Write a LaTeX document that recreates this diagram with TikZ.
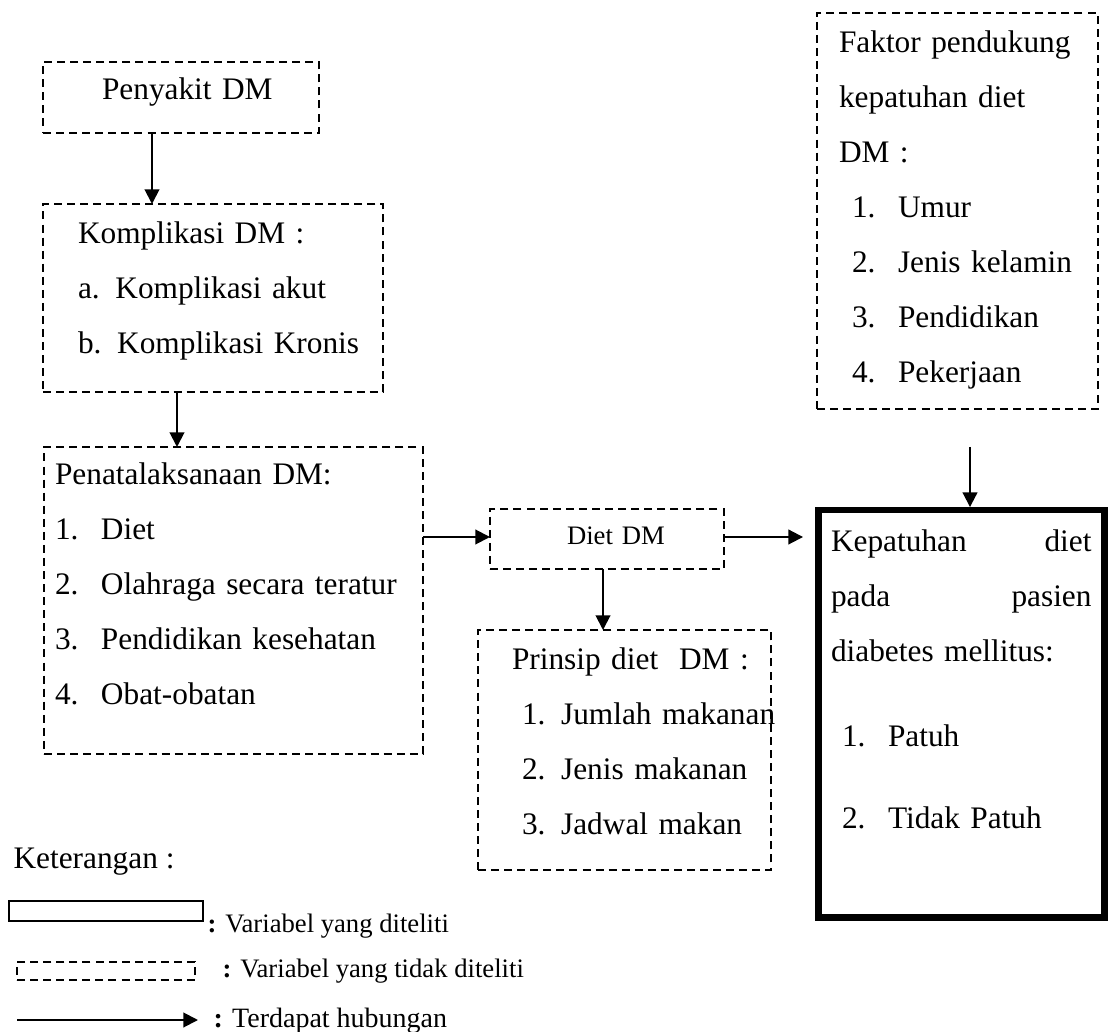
\documentclass[tikz,border=0pt]{standalone}
\usepackage{fontspec}
\setmainfont{Liberation Serif}
\usepackage{tikz}
\usetikzlibrary{arrows.meta}
\tikzstyle{dbox}=[draw,rectangle,line width=0.75pt,dash pattern=on 3pt off 1.9pt,inner ysep=0pt,outer sep=0pt,align=left,anchor=base west]
\tikzstyle{tbox}=[draw,rectangle,line width=2.6pt,inner ysep=0pt,outer sep=0pt,align=left,anchor=base west]
\tikzstyle{link}=[-{Triangle[length=5.5pt,width=5.5pt]},line width=0.75pt]
\tikzstyle{note}=[anchor=base west,inner sep=0pt,font=\fontsize{10}{12}\selectfont]
\newcommand{\itm}[2]{\mbox{\makebox[17.25pt][l]{#1}#2}}

\begin{document}
\begin{tikzpicture}
	[x=0.375pt,y=-0.375pt,font=\fontsize{11.75}{20.625}\selectfont]
	\useasboundingbox (0,0) rectangle (1109,1032);
	\node (penyakit) [dbox,inner xsep=22.125pt,text width=59.25pt,text height=14.25pt,text depth=12.375pt] at (43,100) {\mbox{Penyakit DM}};
	\node (komplikasi) [dbox,inner xsep=13.125pt,text width=101.25pt,text height=15pt,text depth=55.5pt] at (43,244)
		{Komplikasi DM :\\ a. Komplikasi akut\\ \mbox{b. Komplikasi Kronis}};
	\node (penata) [dbox,inner xsep=4.125pt,text width=133.875pt,text height=14.25pt,text depth=100.875pt] at (44,485)
		{Penatalaksanaan DM:\\ \itm{1.}{Diet}\\ \itm{2.}{Olahraga secara teratur}\\ \itm{3.}{Pendidikan kesehatan}\\ \itm{4.}{Obat-obatan}};
	\node (diet) [dbox,inner xsep=28.875pt,text width=30pt,text height=13.5pt,text depth=9pt,font=\fontsize{10}{12}\selectfont] at (490,545) {\mbox{Diet DM}};
	\node (prinsip) [dbox,inner xsep=12.75pt,text width=84.375pt,text height=14.625pt,text depth=75.375pt] at (478,669)
		{\mbox{Prinsip diet\ \ DM :}\\ \hspace*{3.75pt}\mbox{1. Jumlah makanan}\\ \hspace*{3.75pt}\mbox{2. Jenis makanan}\\ \hspace*{3.75pt}\mbox{3. Jadwal makan}};
	\node (faktor) [dbox,inner xsep=8.25pt,text width=88.875pt,text height=15pt,text depth=133.5pt] at (817,53)
		{\mbox{Faktor pendukung}\\ kepatuhan diet\\ DM :\\ \hspace*{4.875pt}\itm{1.}{Umur}\\ \hspace*{4.875pt}\itm{2.}{Jenis kelamin}\\ \hspace*{4.875pt}\itm{3.}{Pendidikan}\\ \hspace*{4.875pt}\itm{4.}{Pekerjaan}};
	\node (kepatuhan) [tbox,inner xsep=4.6875pt,text width=97.7pt,text height=15.75pt,text depth=136.9pt] at (818.5,552)
		{Kepatuhan\hfill diet\\ pada\hfill pasien\\ diabetes mellitus:\\[11.25pt] \hspace*{4.125pt}\itm{1.}{Patuh}\\[10.1pt] \hspace*{4.125pt}\itm{2.}{Tidak Patuh}};
	\draw[link] (penyakit.south -| 152,0) -- (komplikasi.north -| 152,0);
	\draw[link] (komplikasi.south -| 177,0) -- (penata.north -| 177,0);
	\draw[link] (penata.east |- 0,537) -- (diet.west |- 0,537);
	\draw[link,shorten >=5.8pt] (diet.east |- 0,537) -- (kepatuhan.west |- 0,537);
	\draw[link] (diet.south -| 603,0) -- (prinsip.north -| 603,0);
	\draw[link,shorten <=14.25pt,shorten >=1.1pt] (faktor.south -| 970,0) -- (kepatuhan.north -| 970,0);
	\node (ket) [anchor=base west,inner sep=0pt] at (13,868) {Keterangan :};
	\node (solid) [draw,line width=0.6pt,inner sep=0pt,outer sep=0pt,minimum width=72.75pt,minimum height=7.5pt,anchor=north west] at (9,901) {};
	\node (solidtxt) [note] at (207,932) {\textbf{:} Variabel yang diteliti};
	\node (dash) [draw,line width=0.75pt,dash pattern=on 3pt off 1.9pt,inner sep=0pt,outer sep=0pt,minimum width=66.75pt,minimum height=6.75pt,anchor=north west] at (17,962) {};
	\node (dashtxt) [note] at (222,977) {\textbf{:} Variabel yang tidak diteliti};
	\coordinate (from) at (17,1020);
	\coordinate (to) at (198,1020);
	\draw[link] (from) -- (to);
	\node (linktxt) [note,font=\fontsize{10.5}{12}\selectfont] at (213,1027) {\textbf{:} Terdapat hubungan};
\end{tikzpicture}
\end{document}
